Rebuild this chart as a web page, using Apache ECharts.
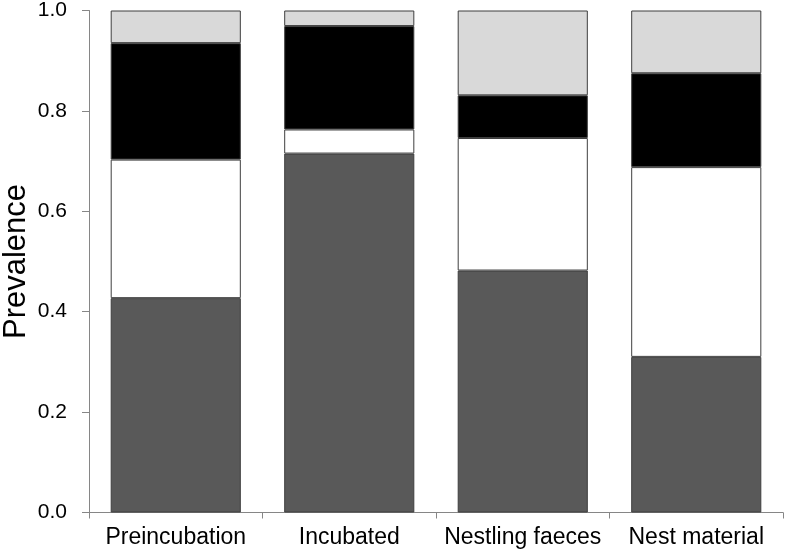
<!DOCTYPE html>
<html>
<head>
<meta charset="utf-8">
<script src="https://cdn.jsdelivr.net/npm/echarts@6/dist/echarts.min.js"></script>
<style>
html,body{margin:0;padding:0;background:#fff;}
#chart{width:786px;height:555px;}
</style>
</head>
<body>
<div id="chart"></div>
<script>
const categories = ['Preincubation', 'Incubated', 'Nestling faeces', 'Nest material'];
const darkGreySeg = [0.427, 0.715, 0.482, 0.310];
const whiteSeg = [0.276, 0.048, 0.264, 0.378];
const blackSeg = [0.232, 0.206, 0.085, 0.187];
const lightGreySeg = [0.065, 0.031, 0.169, 0.125];
const yAxisName = 'Prevalence';

const chart = echarts.init(document.getElementById('chart'));
const font = '"Liberation Sans", Arial, sans-serif';
function seg(name, data, color) {
  return {
    name: name, type: 'bar', stack: 'total', data: data,
    barCategoryGap: '25%',
    itemStyle: { color: color, borderColor: '#3f3f3f', borderWidth: 1 },
    emphasis: { disabled: true },
    animation: false
  };
}
chart.setOption({
  animation: false,
  grid: { left: 89, right: 3, top: 10.5, bottom: 42.5, containLabel: false, outerBoundsMode: 'none' },
  xAxis: {
    type: 'category', data: categories,
    axisLine: { lineStyle: { color: '#868686', width: 1 } },
    axisTick: { show: true, length: 6, lineStyle: { color: '#868686' } },
    axisLabel: { color: '#000', fontFamily: font, fontSize: 23, margin: 14, interval: 0, hideOverlap: false }
  },
  yAxis: {
    type: 'value', min: 0, max: 1, interval: 0.2,
    name: yAxisName, nameLocation: 'middle', nameGap: 57, nameMoveOverlap: false,
    nameTextStyle: { color: '#000', fontFamily: font, fontSize: 31 },
    axisLine: { show: true, lineStyle: { color: '#868686', width: 1 } },
    axisTick: { show: true, length: 7, lineStyle: { color: '#868686' } },
    splitLine: { show: false },
    axisLabel: { color: '#000', fontFamily: font, fontSize: 21, margin: 22,
      formatter: v => v.toFixed(1) }
  },
  series: [
    seg('A', darkGreySeg, '#595959'),
    seg('B', whiteSeg, '#ffffff'),
    seg('C', blackSeg, '#000000'),
    seg('D', lightGreySeg, '#d9d9d9')
  ]
});
</script>
</body>
</html>
